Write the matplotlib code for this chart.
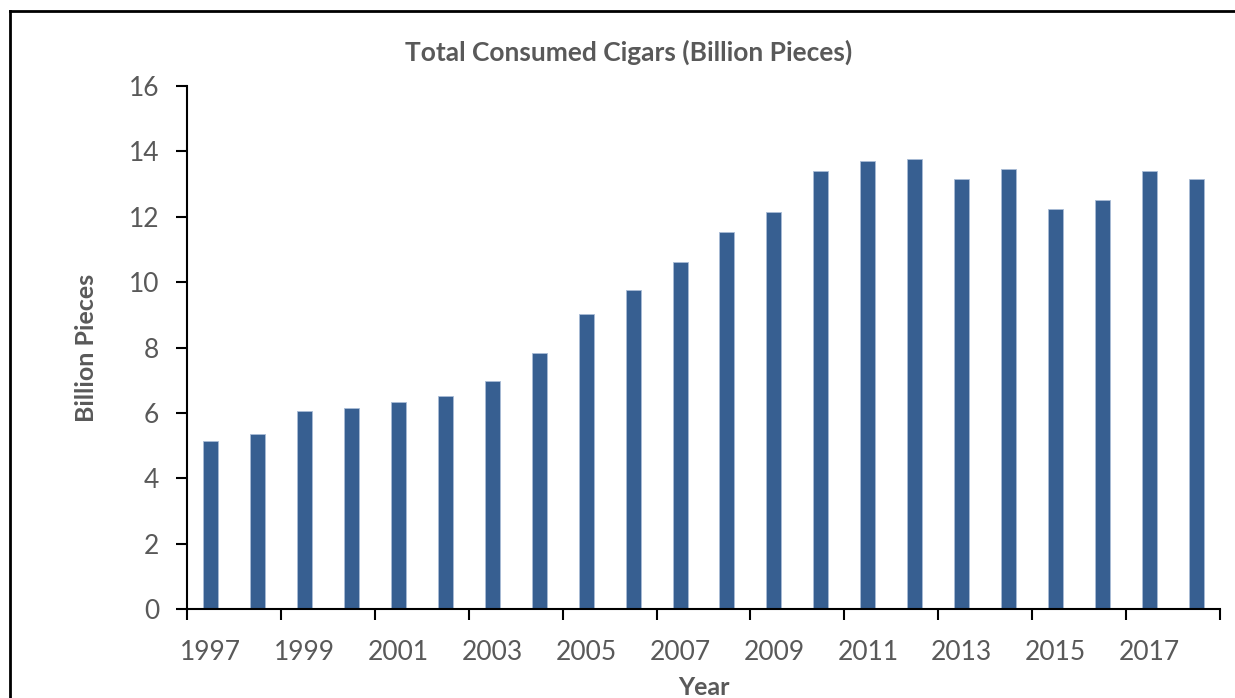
import matplotlib.pyplot as plt
from matplotlib.lines import Line2D
import numpy as np

# Total consumed cigars per year (billion pieces)
years = list(range(1997, 2019))
consumed = [5.14, 5.36, 6.05, 6.14, 6.32, 6.51, 6.97, 7.83, 9.04, 9.76, 10.62,
            11.53, 12.14, 13.39, 13.72, 13.78, 13.15, 13.45, 12.25, 12.52, 13.39, 13.15]
y_ticks = [0, 2, 4, 6, 8, 10, 12, 14, 16]

text_grey = '#595959'
bar_blue = '#375F91'

plt.rcParams['font.family'] = ['Lato', 'DejaVu Sans']

fig = plt.figure(figsize=(12.35, 6.98), dpi=100)
ax = fig.add_axes([187 / 1235, 89 / 698, (1220 - 187) / 1235, (609 - 86) / 698])

x = np.arange(len(years))
ax.bar(x, consumed, width=0.32, color=bar_blue, edgecolor='#A9BCD6', linewidth=0.6)

ax.set_xlim(-0.5, len(years) - 0.5)
ax.set_ylim(0, 16)
ax.set_yticks(y_ticks)
ax.set_yticklabels([str(v) for v in y_ticks], fontsize=19, color=text_grey)

# Excel-style: tick marks on category boundaries, labels under every other bar
ax.set_xticks(np.arange(-0.5, len(years), 2))
ax.set_xticklabels([])
ax.set_xticks(x[::2], minor=True)
ax.set_xticklabels([str(y) for y in years[::2]], minor=True, fontsize=19, color=text_grey)
ax.tick_params(axis='x', which='major', direction='out', length=8, width=1.5, color='black')
ax.tick_params(axis='x', which='minor', length=0, pad=22)
ax.tick_params(axis='y', direction='out', length=8, width=1.5, color='black', pad=12)

for side in ['top', 'right']:
    ax.spines[side].set_visible(False)
for side in ['left', 'bottom']:
    ax.spines[side].set_linewidth(1.5)

ax.set_xlabel('Year', fontsize=18, fontweight='bold', color=text_grey, labelpad=8)
ax.set_ylabel('Billion Pieces', fontsize=18, fontweight='bold', color=text_grey, labelpad=22)
fig.text(629 / 1235, 1 - 52 / 698, 'Total Consumed Cigars (Billion Pieces)',
         ha='center', va='center', fontsize=19, fontweight='bold', color=text_grey)

# outer chart frame: only top and left edges are visible in the reference
fx, fy = 10 / 1235, 1 - 11 / 698
fig.add_artist(Line2D([fx, 1], [fy, fy], transform=fig.transFigure, color='black', linewidth=2))
fig.add_artist(Line2D([fx, fx], [0, fy], transform=fig.transFigure, color='black', linewidth=2))

fig.savefig('out.png', dpi=100)
